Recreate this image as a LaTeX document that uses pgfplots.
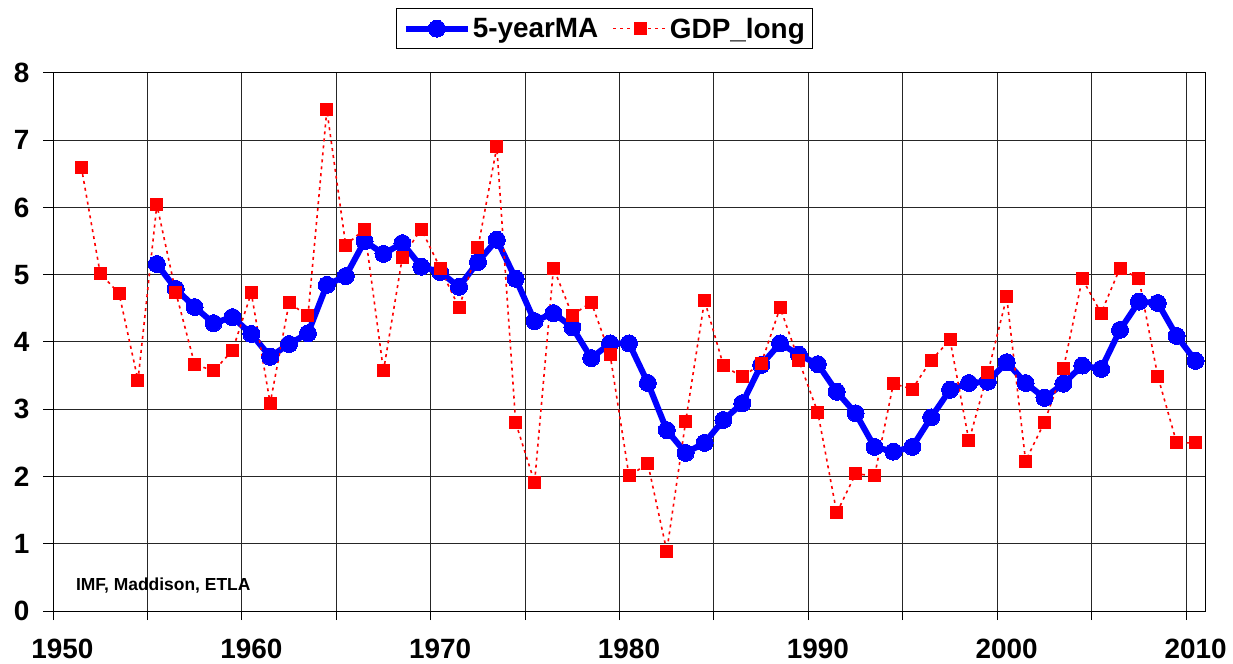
\documentclass[border=0pt]{standalone}
\usepackage{pgfplots}
\pgfplotsset{compat=1.18}
\usepackage{fontspec}
\setmainfont{Liberation Sans}
\pgfplotsset{
  legblue/.style={legend image code/.code={\draw[mark repeat=2,mark phase=2,##1] plot coordinates {(0bp,0bp) (31bp,0bp) (62bp,0bp)};}},
  legred/.style={legend image code/.code={\draw[mark repeat=2,mark phase=2,##1] plot coordinates {(0bp,0bp) (27bp,0bp) (54bp,0bp)};}},
}
\pgfplotstableread{
year ma
1955 5.16
1956 4.79
1957 4.52
1958 4.28
1959 4.37
1960 4.12
1961 3.78
1962 3.97
1963 4.13
1964 4.85
1965 4.98
1966 5.50
1967 5.31
1968 5.47
1969 5.12
1970 5.04
1971 4.82
1972 5.19
1973 5.52
1974 4.94
1975 4.31
1976 4.43
1977 4.22
1978 3.76
1979 3.98
1980 3.98
1981 3.39
1982 2.69
1983 2.35
1984 2.50
1985 2.84
1986 3.09
1987 3.66
1988 3.98
1989 3.81
1990 3.67
1991 3.26
1992 2.94
1993 2.44
1994 2.37
1995 2.44
1996 2.88
1997 3.29
1998 3.39
1999 3.41
2000 3.70
2001 3.39
2002 3.17
2003 3.38
2004 3.65
2005 3.60
2006 4.18
2007 4.60
2008 4.58
2009 4.09
2010 3.72
}\matable
\pgfplotstableread{
year gdp
1951 6.60
1952 5.02
1953 4.72
1954 3.43
1955 6.04
1956 4.74
1957 3.67
1958 3.57
1959 3.87
1960 4.73
1961 3.09
1962 4.58
1963 4.39
1964 7.45
1965 5.44
1966 5.68
1967 3.57
1968 5.26
1969 5.68
1970 5.10
1971 4.51
1972 5.40
1973 6.90
1974 2.80
1975 1.91
1976 5.10
1977 4.40
1978 4.59
1979 3.81
1980 2.01
1981 2.19
1982 0.89
1983 2.82
1984 4.62
1985 3.65
1986 3.48
1987 3.68
1988 4.51
1989 3.72
1990 2.95
1991 1.46
1992 2.04
1993 2.01
1994 3.38
1995 3.30
1996 3.73
1997 4.03
1998 2.53
1999 3.54
2000 4.67
2001 2.23
2002 2.81
2003 3.60
2004 4.94
2005 4.43
2006 5.10
2007 4.94
2008 3.49
2009 2.50
2010 2.50
}\gdptable
\begin{document}
\begin{tikzpicture}[x=1bp,y=1bp]
\useasboundingbox (-53bp,-53bp) rectangle (1180bp,611bp);
\begin{axis}[
  at={(0,0)}, anchor=south west,
  scale only axis, width=1152bp, height=538bp,
  xmin=1949.5, xmax=2010.5, ymin=0, ymax=8,
  xtick={1950,1960,1970,1980,1990,2000,2010},
  xticklabels={1950,1960,1970,1980,1990,2000,2010},
  minor xtick={1949.5,1954.5,1959.5,1964.5,1969.5,1974.5,1979.5,1984.5,1989.5,1994.5,1999.5,2004.5,2009.5},
  xmajorgrids=false, xminorgrids=true, ymajorgrids=true,
  major x tick style={draw=none},
  ytick={0,1,2,3,4,5,6,7,8},
  yticklabels={0,1,2,3,4,5,6,7,8},
  xtick pos=left, ytick pos=left,
  tick align=outside,
  major tick length=10bp, minor tick length=9bp,
  tick style={black, line width=1bp},
  minor tick style={black, line width=1bp},
  grid style={black!85, line width=1bp},
  minor grid style={black!85, line width=1bp},
  axis line style={black, line width=1bp},
  ticklabel style={font=\fontsize{28}{30}\selectfont\bfseries},
  xticklabel style={yshift=-15bp},
  yticklabel style={xshift=-10bp},
  legend columns=2,
  legend style={at={(axis description cs:0.479,1)}, anchor=south, yshift=24bp,
    draw=black, line width=1bp, inner xsep=6bp, inner ysep=7bp,
    font=\fontsize{28}{30}\selectfont\bfseries,
    /tikz/every even column/.append style={column sep=12bp}},
]
\addplot[blue, line width=6bp, mark=*, mark size=8.5bp, mark options={solid, fill=blue, line width=0bp}, legblue]
  table[x=year, y=ma] {\matable};
\addlegendentry{5-yearMA}
\addplot[red, line width=1.6bp, dash pattern=on 3bp off 4bp, mark=square*, mark size=6bp, mark options={solid, fill=red, line width=0bp}, legred]
  table[x=year, y=gdp] {\gdptable};
\addlegendentry{GDP\_long}
\node[anchor=west, font=\fontsize{17.5}{19}\selectfont\bfseries] at (axis description cs:0.017,0.048) {IMF, Maddison, ETLA};
\end{axis}
\end{tikzpicture}
\end{document}
